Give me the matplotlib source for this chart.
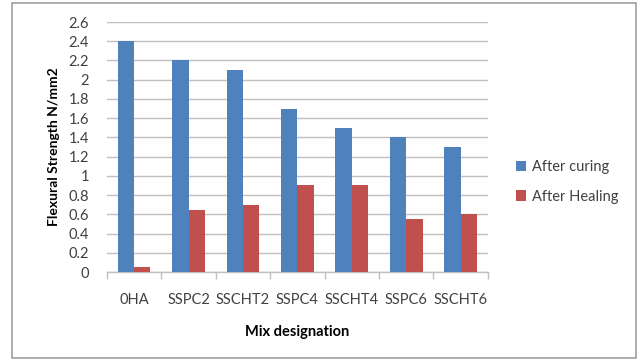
import numpy as np
import matplotlib.pyplot as plt
from matplotlib.patches import Rectangle

plt.rcParams["font.family"] = ["Lato", "DejaVu Sans"]

mixes = ["0HA", "SSPC2", "SSCHT2", "SSPC4", "SSCHT4", "SSPC6", "SSCHT6"]
after_curing = [2.4, 2.2, 2.1, 1.7, 1.5, 1.4, 1.3]
after_healing = [0.05, 0.65, 0.7, 0.9, 0.9, 0.55, 0.6]
y_ticks = [0, 0.2, 0.4, 0.6, 0.8, 1, 1.2, 1.4, 1.6, 1.8, 2, 2.2, 2.4, 2.6]
y_tick_labels = ["0", "0.2", "0.4", "0.6", "0.8", "1", "1.2", "1.4", "1.6",
                 "1.8", "2", "2.2", "2.4", "2.6"]

BLUE = "#4F81BD"
RED = "#C0504D"
GRID = "#BFBFBF"
TEXT = "#404040"

fig = plt.figure(figsize=(6.4, 3.6), dpi=100)
ax = fig.add_axes([0.167, 0.2444, 0.5953, 0.6944])

# outer chart frame
fig.patches.append(Rectangle((0.018, 0.006), 0.976, 0.985, transform=fig.transFigure,
                             fill=False, edgecolor="#A0A0A0", linewidth=1.2))

x = np.arange(len(mixes))
w = 0.3
ax.bar(x - w / 2, after_curing, width=w, color=BLUE, label="After curing", zorder=3)
ax.bar(x + w / 2, after_healing, width=w, color=RED, label="After Healing", zorder=3)

ax.set_xlim(-0.5, len(mixes) - 0.5)
ax.set_ylim(0, 2.6)
ax.set_yticks(y_ticks)
ax.set_yticklabels(y_tick_labels)
ax.set_xticks(x)
ax.set_xticklabels(mixes)
ax.set_xticks(np.arange(len(mixes) + 1) - 0.5, minor=True)

ax.yaxis.grid(True, color=GRID, linewidth=1.0, zorder=0)
for side in ("top", "right", "left"):
    ax.spines[side].set_visible(False)
ax.spines["bottom"].set_color(GRID)
ax.spines["bottom"].set_linewidth(1.0)

ax.tick_params(axis="y", length=0, pad=13, labelsize=10.5, labelcolor=TEXT)
ax.tick_params(axis="x", which="major", length=0, pad=15, labelsize=10.5, labelcolor=TEXT)
ax.tick_params(axis="x", which="minor", length=5, color=GRID, width=1.0)

ax.set_ylabel("Flexural Strength N/mm2", fontsize=10, fontweight="bold", labelpad=6)
ax.set_xlabel("Mix designation", fontsize=10.5, fontweight="bold", labelpad=13)

ax.legend(loc="center left", bbox_to_anchor=(1.04, 0.36), frameon=False,
          fontsize=10.5, handlelength=0.7, handleheight=0.7, handletextpad=0.4,
          labelspacing=1.05, labelcolor=TEXT)

fig.savefig("out.png", dpi=100)
